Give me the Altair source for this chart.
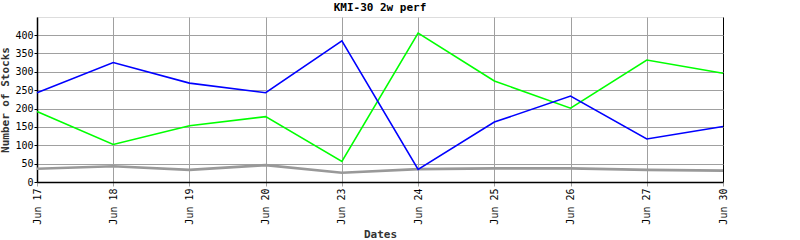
import altair as alt
import pandas as pd

dates = ["Jun 17", "Jun 18", "Jun 19", "Jun 20", "Jun 23", "Jun 24", "Jun 25", "Jun 26", "Jun 27", "Jun 30"]
blue_vals = [243, 325, 269, 243, 384, 34, 163, 234, 117, 151]
green_vals = [192, 102, 153, 178, 56, 405, 275, 201, 332, 296]
gray_vals = [36, 43, 33, 46, 25, 35, 37, 37, 33, 31]

series_names = ["blue", "green", "gray"]
series_colors = ["#0000ff", "#00ff00", "#999999"]
series_widths = [1.6, 1.6, 2.6]

rows = []
for name, vals in zip(series_names, [blue_vals, green_vals, gray_vals]):
    for i, (d, v) in enumerate(zip(dates, vals)):
        rows.append({"date": d, "value": v, "series": name, "order": i})
df = pd.DataFrame(rows)

FONT = "DejaVu Sans Mono"
GRID = "#a0a0a0"

x_enc = alt.X("date:O", sort=dates, title="Dates",
              scale=alt.Scale(type="point", padding=0),
              axis=alt.Axis(labelAngle=-90, labelFont=FONT, labelFontSize=10,
                            labelColor="#000000", titleFont=FONT, titleFontSize=11,
                            titleFontWeight="bold", titleColor="#333333",
                            grid=True,
                            gridColor={"condition": {"test": f"datum.value == '{dates[-1]}'", "value": "#000000"}, "value": GRID},
                            gridWidth=1,
                            tickColor=GRID, tickSize=4, domain=True,
                            domainColor="#000000", domainWidth=1.5,
                            labelPadding=2, titlePadding=4))
y_enc = alt.Y("value:Q", title="Number of Stocks",
              scale=alt.Scale(domain=[0, 449], nice=False),
              axis=alt.Axis(values=list(range(0, 450, 50)), labelFont=FONT,
                            labelFontSize=10, labelColor="#000000",
                            titleFont=FONT, titleFontSize=11, titleFontWeight="bold",
                            titleColor="#333333", grid=True, gridColor=GRID,
                            gridWidth=1, tickColor="#000000", tickSize=3,
                            domain=True, domainColor="#000000", domainWidth=1.5,
                            labelPadding=1, titlePadding=4))

lines = []
for name, col, w in zip(series_names[::-1], series_colors[::-1], series_widths[::-1]):
    lines.append(
        alt.Chart(df[df.series == name]).mark_line(color=col, strokeWidth=w, interpolate="linear")
        .encode(x=x_enc, y=y_enc, order="order:Q")
    )

chart = alt.layer(*lines).properties(
    width=686, height=165,
    title=alt.TitleParams("KMI-30 2w perf", font=FONT, fontSize=11, fontWeight="bold",
                          color="#000000", anchor="middle", offset=4),
    autosize=alt.AutoSizeParams(type="none"),
    padding={"left": 37, "top": 17, "right": 77, "bottom": 58},
).configure_view(stroke="#000000", strokeWidth=2).configure(background="#ffffff")

chart.save("out.html", embed_options={"renderer": "svg", "actions": False})
